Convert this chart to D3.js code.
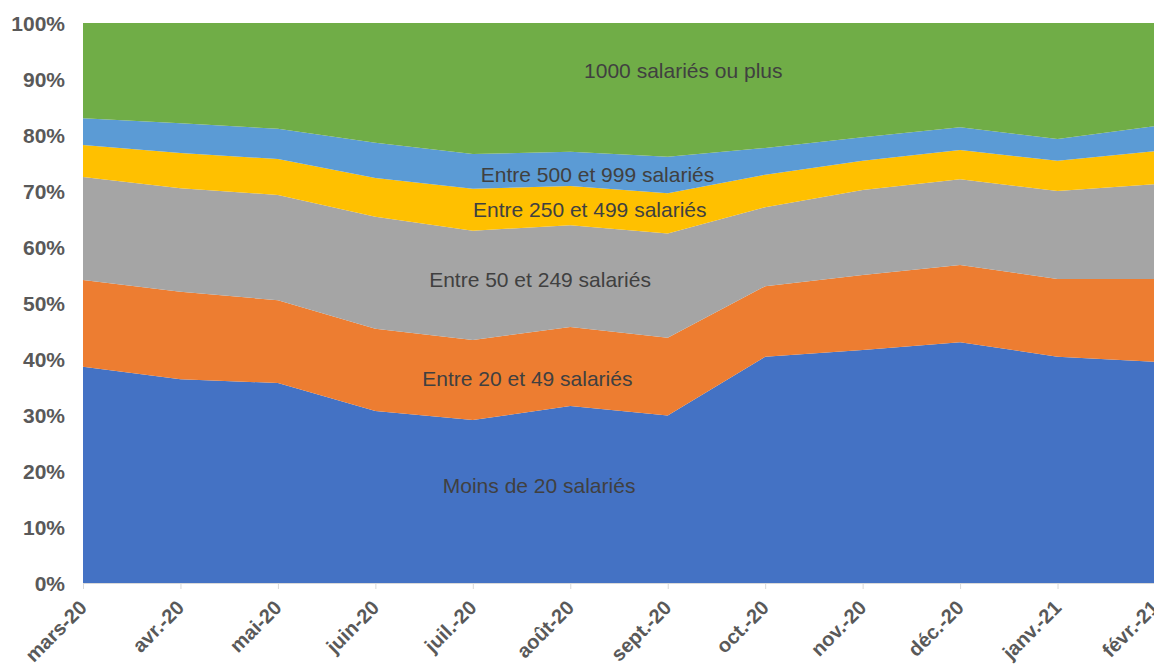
<!DOCTYPE html>
<html>
<head>
<meta charset="utf-8">
<script src="https://cdn.jsdelivr.net/npm/d3@7"></script>
<style>
  body { margin: 0; background: #fff; }
  svg { display: block; font-family: "Liberation Sans", Arial, sans-serif; }
</style>
</head>
<body>
<svg width="1154" height="665"></svg>
<script>
const months = ['mars-20', 'avr.-20', 'mai-20', 'juin-20', 'juil.-20', 'août-20',
    'sept.-20', 'oct.-20', 'nov.-20', 'déc.-20', 'janv.-21', 'févr.-21'];

const series = ['Moins de 20 salariés', 'Entre 20 et 49 salariés', 'Entre 50 et 249 salariés',
    'Entre 250 et 499 salariés', 'Entre 500 et 999 salariés', '1000 salariés ou plus'];

// share of each size class, in %
const moins20 = [38.6, 36.4, 35.7, 30.7, 29.1, 31.6, 29.9, 40.4, 41.6, 43.0, 40.4, 39.5];
const de20a49 = [15.5, 15.6, 14.8, 14.7, 14.3, 14.1, 13.9, 12.6, 13.4, 13.8, 13.9, 14.8];
const de50a249 = [18.4, 18.5, 18.8, 20.0, 19.5, 18.2, 18.6, 14.1, 15.2, 15.3, 15.7, 16.9];
const de250a499 = [5.7, 6.3, 6.4, 6.9, 7.5, 7.0, 7.2, 5.8, 5.2, 5.2, 5.4, 5.9];
const de500a999 = [4.8, 5.3, 5.4, 6.3, 6.2, 6.1, 6.5, 4.8, 4.2, 4.1, 3.9, 4.5];
const plus1000 = [17.0, 17.9, 18.9, 21.4, 23.4, 23.0, 23.9, 22.3, 20.4, 18.6, 20.7, 18.4];

const colors = ['#4472C4', '#ED7D31', '#A5A5A5', '#FFC000', '#5B9BD5', '#70AD47'];
const yTicks = [0, 10, 20, 30, 40, 50, 60, 70, 80, 90, 100];

// label anchor positions (month index, % height of baseline)
const labelPos = [[4.68, 16.1], [4.56, 35.2], [4.69, 52.9], [5.2, 65.4], [5.28, 71.6], [6.16, 90.2]];

const allValues = [moins20, de20a49, de50a249, de250a499, de500a999, plus1000];
const rows = months.map((m, i) => {
    const r = { month: m };
    series.forEach((s, j) => { r[s] = allValues[j][i]; });
    return r;
});

const svg = d3.select('svg');

const x = d3.scalePoint().domain(months).range([83, 1155]);
const y = d3.scaleLinear().domain([0, 100]).range([583, 23]);

const stack = d3.stack().keys(series).offset(d3.stackOffsetExpand);
const layers = stack(rows);

const area = d3.area()
    .x(d => x(d.data.month))
    .y0(d => y(d[0] * 100))
    .y1(d => y(d[1] * 100));

svg.append('g').selectAll('path')
    .data(layers)
    .enter().append('path')
    .attr('d', area)
    .attr('fill', (d, i) => colors[i]);

// y axis labels
svg.append('g').selectAll('text')
    .data(yTicks)
    .enter().append('text')
    .attr('x', 65)
    .attr('y', d => y(d) + 8)
    .attr('text-anchor', 'end')
    .style('font-size', '21px')
    .style('font-weight', 'bold')
    .style('fill', '#595959')
    .text(d => d + '%');

// x axis
const xAxis = svg.append('g');
xAxis.append('line')
    .attr('x1', 83).attr('x2', 1154)
    .attr('y1', 583.5).attr('y2', 583.5)
    .attr('stroke', '#d9d9d9');
xAxis.selectAll('line.tick')
    .data(months)
    .enter().append('line')
    .attr('class', 'tick')
    .attr('x1', d => x(d) + 0.5).attr('x2', d => x(d) + 0.5)
    .attr('y1', 583).attr('y2', 589)
    .attr('stroke', '#d9d9d9');
xAxis.selectAll('text')
    .data(months)
    .enter().append('text')
    .attr('transform', d => 'translate(' + (x(d) + 5) + ',609) rotate(-45)')
    .attr('text-anchor', 'end')
    .style('font-size', '20px')
    .style('font-weight', 'bold')
    .style('fill', '#595959')
    .text(d => d);

// series labels
const xi = d3.scaleLinear().domain([0, months.length - 1]).range(x.range());
svg.append('g').selectAll('text')
    .data(series)
    .enter().append('text')
    .attr('x', (d, i) => xi(labelPos[i][0]))
    .attr('y', (d, i) => y(labelPos[i][1]))
    .attr('text-anchor', 'middle')
    .style('font-size', '21px')
    .style('fill', '#404040')
    .text(d => d);
</script>
</body>
</html>
